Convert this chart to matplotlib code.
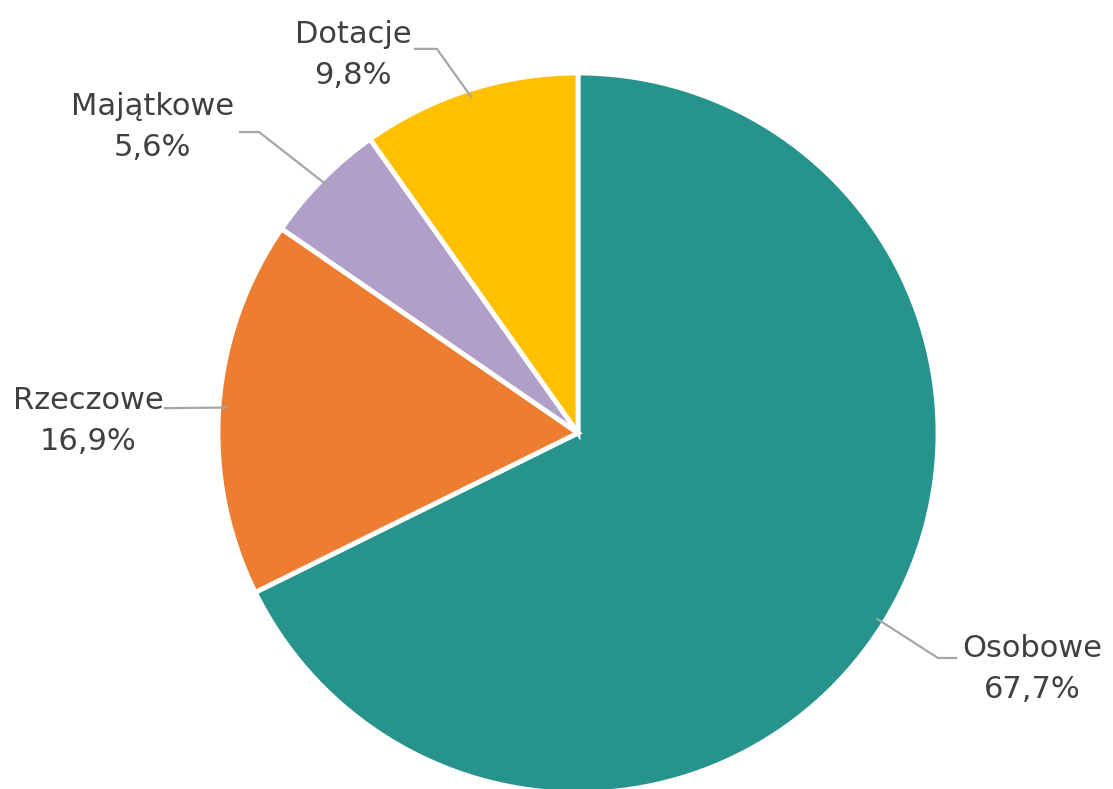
import matplotlib.pyplot as plt
import numpy as np

LABELS = ['Osobowe', 'Rzeczowe', 'Majątkowe', 'Dotacje']
SHARES = [67.7, 16.9, 5.6, 9.8]
COLORS = ['#26938C', '#ED7D31', '#B09FC8', '#FFC000']

# label block centres and leader elbows (axes data units, radius = 1)
TEXT_POS = [(1.261, -0.656), (-1.361, 0.033), (-1.183, 0.85), (-0.625, 1.05)]
ELBOW = [((1.05, -0.625), (1.0, -0.625)),
         ((-1.147, 0.069), (-1.147, 0.069)),
         ((-0.939, 0.836), (-0.886, 0.836)),
         ((-0.453, 1.067), (-0.392, 1.067))]

fig = plt.figure(figsize=(11.13, 7.89), dpi=100)
ax = fig.add_axes([0, 0, 1, 1])

wedges, _ = ax.pie(SHARES, colors=COLORS, startangle=90, counterclock=False,
                   radius=1, center=(0, 0),
                   wedgeprops=dict(edgecolor='white', linewidth=3.5))

for w, lab, val, tp, el in zip(wedges, LABELS, SHARES, TEXT_POS, ELBOW):
    ang = np.deg2rad((w.theta1 + w.theta2) / 2)
    edge = (0.98 * np.cos(ang), 0.98 * np.sin(ang))
    xs = [el[0][0], el[1][0], edge[0]]
    ys = [el[0][1], el[1][1], edge[1]]
    ax.plot(xs, ys, color='#A6A6A6', lw=1.6, zorder=1)
    txt = lab + '\n' + ('%.1f%%' % val).replace('.', ',')
    ax.text(tp[0], tp[1], txt, ha='center', va='center', fontsize=22,
            color='#404040', family='DejaVu Sans', linespacing=1.55)

ax.set_xlim(-578 / 360, (1113 - 578) / 360)
ax.set_ylim(-(789 - 433) / 360, 433 / 360)
ax.set_aspect('equal')
ax.axis('off')

fig.savefig('out.png', dpi=100, facecolor='white')
